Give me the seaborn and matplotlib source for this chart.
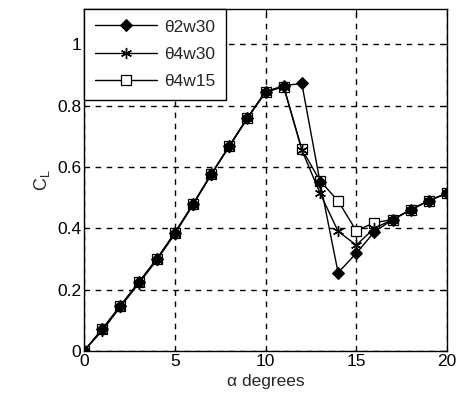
import matplotlib
matplotlib.use('Agg')
from matplotlib import pyplot as plt
import seaborn as sns
import pandas as pd

alpha = list(range(0, 21))
cl_t2w30 = [0, 0.071, 0.147, 0.223, 0.299, 0.385, 0.478, 0.576, 0.668, 0.76, 0.845,
            0.865, 0.872, 0.552, 0.255, 0.318, 0.388, 0.428, 0.46, 0.49, 0.514]
cl_t4w30 = [0, 0.066, 0.143, 0.219, 0.295, 0.381, 0.476, 0.574, 0.666, 0.758, 0.843,
            0.862, 0.655, 0.515, 0.39, 0.345, 0.40, 0.428, 0.46, 0.49, 0.514]
cl_t4w15 = [0, 0.071, 0.147, 0.223, 0.299, 0.385, 0.478, 0.576, 0.668, 0.76, 0.845,
            0.862, 0.658, 0.555, 0.489, 0.392, 0.418, 0.428, 0.46, 0.49, 0.514]
names = ['\u03b82w30', '\u03b84w30', '\u03b84w15']
yticks = [0, 0.2, 0.4, 0.6, 0.8, 1]
ytick_labels = ['0', '0.2', '0.4', '0.6', '0.8', '1']
xticks = [0, 5, 10, 15, 20]

sns.set_style('white')
plt.rcParams['font.family'] = ['Liberation Sans', 'DejaVu Sans']
plt.rcParams['font.size'] = 12

fig = plt.figure(figsize=(4.57, 4.08), dpi=100)
ax = fig.add_axes([0.184, 0.140, 0.794, 0.838])

# squares at the bottom, filled diamonds on top so overlaps look solid
styles = [
    dict(marker='D', markersize=6.5, markerfacecolor='black', markeredgecolor='black',
         zorder=5),
    dict(marker=(6, 2, 0), markersize=8, markeredgecolor='black', markeredgewidth=1,
         zorder=4),
    dict(marker='s', markersize=7, markerfacecolor='white', markeredgecolor='black',
         markeredgewidth=0.9, zorder=3),
]
for name, vals, st in zip(names, [cl_t2w30, cl_t4w30, cl_t4w15], styles):
    df = pd.DataFrame({'alpha': alpha, 'cl': vals})
    sns.lineplot(data=df, x='alpha', y='cl', ax=ax, color='black', linewidth=1,
                 label=name, **st)

ax.set_xlim(0, 20)
ax.set_ylim(0, 1.115)
ax.set_xticks(xticks)
ax.set_xticklabels([str(t) for t in xticks])
ax.set_yticks(yticks)
ax.set_yticklabels(ytick_labels)
ax.grid(True, color='black', linestyle=(0, (4, 4)), linewidth=1)
ax.tick_params(direction='in', length=4, top=True, right=True, colors='black',
               labelsize=12.5, pad=2)
for s in ax.spines.values():
    s.set_color('black')
    s.set_linewidth(1)
    s.set_zorder(6)
ax.set_xlabel('\u03b1 degrees', fontsize=12.5, labelpad=4)
ax.set_ylabel('C$_\\mathregular{L}$', fontsize=13, labelpad=4)

leg = ax.legend(loc='upper left', bbox_to_anchor=(0, 1), borderaxespad=0,
                fancybox=False, framealpha=1, edgecolor='black', fontsize=12.5,
                handlelength=3.6, borderpad=0.6, labelspacing=0.7, handletextpad=0.4)
leg.get_frame().set_linewidth(1)
leg.set_zorder(10)

fig.savefig('out.png', dpi=100)
